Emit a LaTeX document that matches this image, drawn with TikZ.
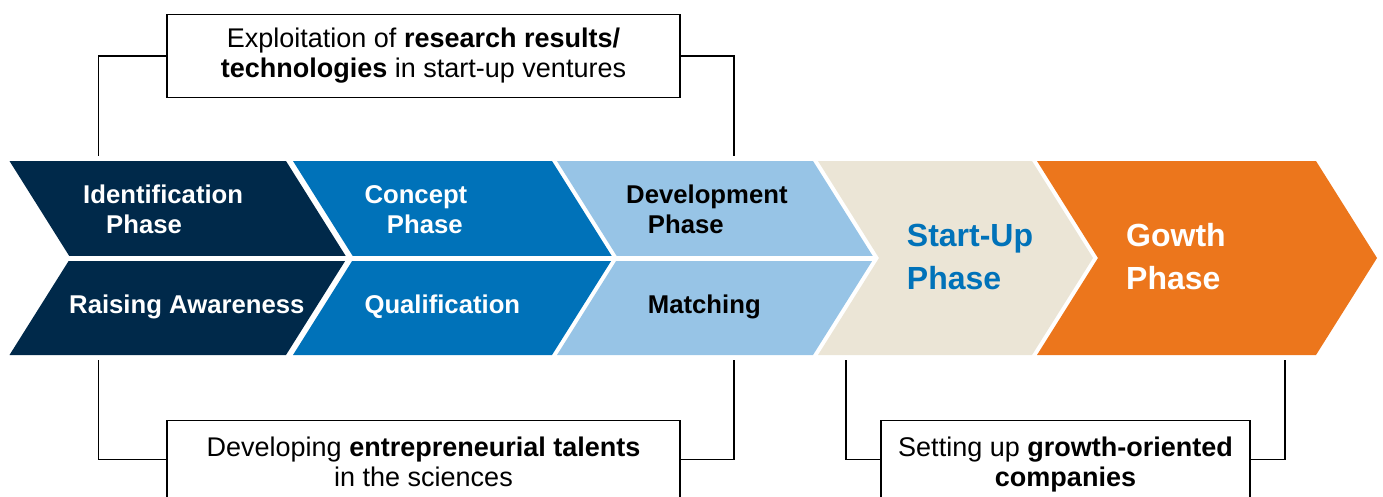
\documentclass[tikz,border=0pt]{standalone}
\usepackage{fontspec}
\setmainfont{Liberation Sans}
\definecolor{navy}{RGB}{0,41,74}
\definecolor{midblue}{RGB}{0,114,185}
\definecolor{lightblue}{RGB}{151,196,230}
\definecolor{beige}{RGB}{235,229,214}
\definecolor{orng}{RGB}{236,118,28}
\tikzset{
  lbl/.style={anchor=base west, align=left, inner sep=0, font=\fontsize{25.7}{30}\selectfont\bfseries},
  big/.style={anchor=base west, align=left, inner sep=0, font=\fontsize{32}{42.6}\selectfont\bfseries},
  infobox/.style={draw=black, line width=1.3pt, fill=white, align=center, font=\fontsize{27}{30}\selectfont},
  conn/.style={draw=black, line width=1.3pt},
}
\newcommand{\chev}[3]{% fill color, left, right
  \fill[#1] (#2,161) -- (#3,161) -- (#3+61,258) -- (#3,355) -- (#2,355) -- (#2+61,258) -- cycle;}
\begin{document}
\begin{tikzpicture}[x=1pt,y=-1pt]
\useasboundingbox (0,0) rectangle (1383,496);
\clip (0,0) rectangle (1383,496);
% chevrons
\chev{navy}{9.5}{286}
\chev{midblue}{293}{552}
\chev{lightblue}{557}{813}
\chev{beige}{818}{1032}
\chev{orng}{1037}{1316}
\draw[white, line width=5pt] (0,258) -- (876,258);
% labels (base anchor = baseline of last line)
\node[lbl, white] (ident) at (83,233.3) {Identification\\\hspace*{23pt}Phase};
\node[lbl, white] (raise) at (69,313.3) {Raising Awareness};
\node[lbl, white] (conc) at (364.3,233.3) {Concept\\\hspace*{22.4pt}Phase};
\node[lbl, white] (qual) at (364.3,313.3) {Qualification};
\node[lbl, black] (devel) at (626,233.3) {Development\\\hspace*{21.7pt}Phase};
\node[lbl, black] (match) at (647.7,313.3) {Matching};
\node[big, midblue] (start) at (906.7,289.3) {Start-Up\\Phase};
\node[big, white] (growth) at (1126,289.3) {Gowth\\Phase};
% boxes
\node[infobox, minimum width=513pt, minimum height=82.8pt] (topbox) at (423.5,55.9)
  {Exploitation of \textbf{research results/}\\\textbf{technologies} in start-up ventures};
\node[infobox, anchor=north, minimum width=513pt, inner ysep=16pt] (botbox) at (423.5,420)
  {Developing \textbf{entrepreneurial talents}\\in the sciences};
\node[infobox, anchor=north, minimum width=369pt, inner ysep=16pt] (growbox) at (1065.5,420)
  {Setting up \textbf{growth-oriented}\\\textbf{companies}};
% connector ends
\coordinate (tl) at (98.3,155.7);
\coordinate (tr) at (734,155.7);
\coordinate (bl) at (98.3,360);
\coordinate (br) at (734,360);
\coordinate (gl) at (846,360);
\coordinate (gr) at (1285,360);
\coordinate (hl) at (0,459.3);
\draw[conn] (topbox.west) -| (tl);
\draw[conn] (topbox.east) -| (tr);
\draw[conn] (bl) |- (botbox.west |- hl);
\draw[conn] (br) |- (botbox.east |- hl);
\draw[conn] (gl) |- (growbox.west |- hl);
\draw[conn] (gr) |- (growbox.east |- hl);
\end{tikzpicture}
\end{document}
